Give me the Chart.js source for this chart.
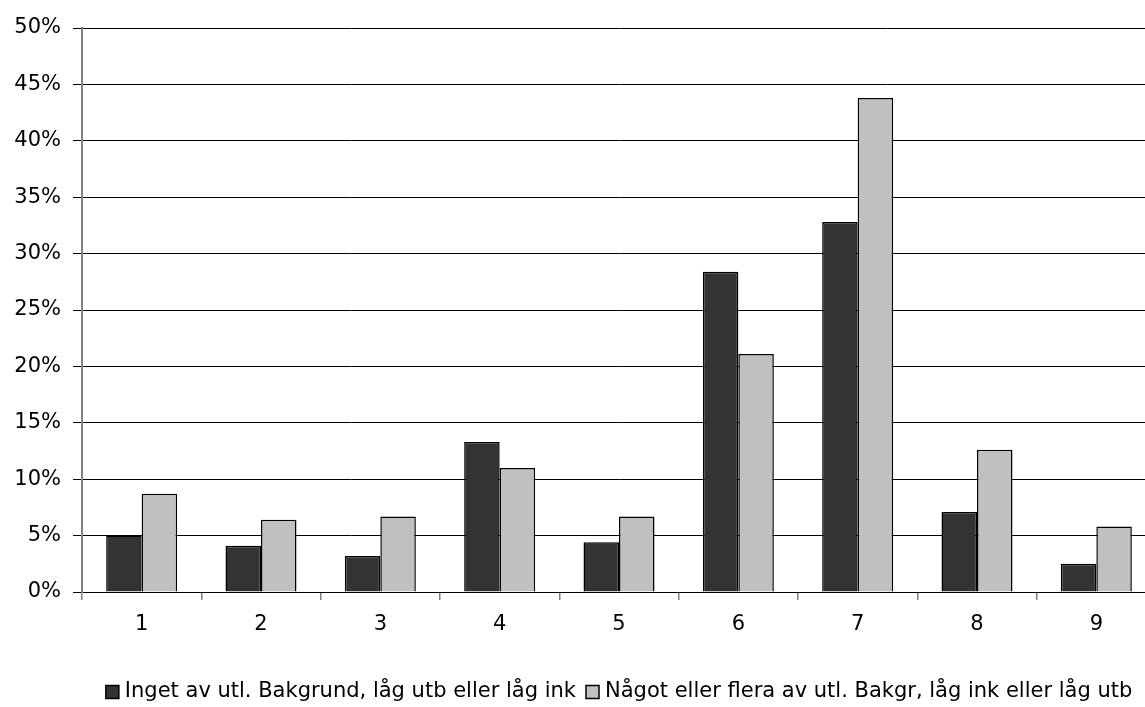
<!DOCTYPE html>
<html>
<head>
<meta charset="utf-8">
<script src="https://cdn.jsdelivr.net/npm/chart.js@4"></script>
<style>
  html, body { margin: 0; padding: 0; background: #fff; overflow: hidden; }
  #wrap { width: 1156px; height: 707px; }
</style>
</head>
<body>
<div id="wrap"><canvas id="grafico"></canvas></div>
<script>
// Datos del gráfico
const categorias = ['1', '2', '3', '4', '5', '6', '7', '8', '9'];
const serieInget = [5.0, 4.1, 3.2, 13.3, 4.4, 28.4, 32.8, 7.1, 2.5];
const serieNagot = [8.7, 6.4, 6.7, 11.0, 6.7, 21.1, 43.8, 12.6, 5.8];
const etiquetas = ['Inget av utl. Bakgrund, låg utb eller låg ink', 'Något eller flera av utl. Bakgr, låg ink eller låg utb'];

const fuente = 'DejaVu Sans, sans-serif';

// Leyenda dibujada a mano, cajas pequeñas pegadas al texto
const leyenda = {
  id: 'leyenda',
  afterDraw(chart) {
    const c = chart.ctx;
    const ds = chart.data.datasets;
    const y = 692, caja = 13, g1 = 6, g2 = 10;
    c.save();
    c.font = '21px ' + fuente;
    c.textBaseline = 'middle';
    const w = ds.map(d => c.measureText(d.label).width);
    let x = 586 - g2 - w[0] - g1 - caja;
    ds.forEach((d, i) => {
      c.fillStyle = d.backgroundColor;
      c.fillRect(x, y - caja / 2, caja, caja);
      c.strokeStyle = '#000';
      c.lineWidth = 1.5;
      c.strokeRect(x, y - caja / 2, caja, caja);
      c.fillStyle = '#000';
      c.fillText(d.label, x + caja + g1, y);
      x += caja + g1 + w[i] + g2;
    });
    c.restore();
  }
};

const ctx = document.getElementById('grafico').getContext('2d');
new Chart(ctx, {
  type: 'bar',
  data: {
    labels: categorias,
    datasets: [
      {
        label: etiquetas[0],
        data: serieInget,
        backgroundColor: '#333333',
        borderColor: '#000000',
        borderWidth: 1.5
      },
      {
        label: etiquetas[1],
        data: serieNagot,
        backgroundColor: '#c0c0c0',
        borderColor: '#000000',
        borderWidth: 1.5
      }
    ]
  },
  plugins: [leyenda],
  options: {
    responsive: true,
    maintainAspectRatio: false,
    animation: false,
    datasets: { bar: { categoryPercentage: 0.595, barPercentage: 1 } },
    layout: { padding: { top: 28, right: 0, left: 0, bottom: 55 } },
    plugins: {
      tooltip: { enabled: false },
      legend: { display: false }
    },
    scales: {
      x: {
        grid: {
          offset: true,
          drawOnChartArea: false,
          color: '#808080',
          lineWidth: 1.5,
          tickLength: 8
        },
        border: { color: '#000', width: 1 },
        ticks: { font: { family: fuente, size: 21 }, color: '#000', padding: 12 },
        afterFit: s => { s.height = 60; }
      },
      y: {
        min: 0,
        max: 50,
        ticks: {
          stepSize: 5,
          font: { family: fuente, size: 21 },
          color: '#000',
          padding: 12,
          callback: v => v + '%'
        },
        grid: { color: '#000', lineWidth: 1, tickLength: 9 },
        border: { color: '#808080', width: 2 },
        afterFit: s => { s.width = 82; }
      }
    }
  }
});
</script>
</body>
</html>
